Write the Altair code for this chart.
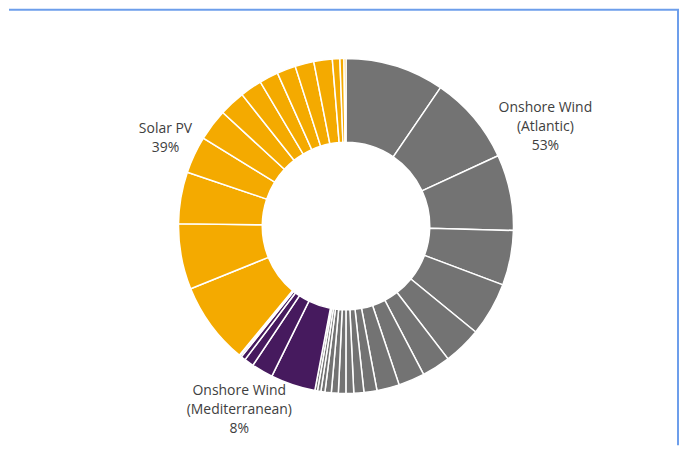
import altair as alt
import pandas as pd

# Slice shares (% of total), clockwise from 12 o'clock, each group sorted descending
atlantic = [9.53, 8.56, 7.31, 5.28, 5.19, 3.67, 2.75, 2.53, 2.17, 1.25, 0.97,
            0.75, 0.72, 0.67, 0.61, 0.39, 0.33, 0.25]
mediterranean = [4.31, 2.08, 0.92, 0.44, 0.17, 0.08]
solar = [7.89, 6.33, 4.97, 3.58, 3.06, 2.50, 2.11, 1.83, 1.81, 1.81, 1.78,
         0.72, 0.39, 0.19]

groups = ["Onshore Wind (Atlantic)", "Onshore Wind (Mediterranean)", "Solar PV"]
colors = ["#737373", "#461a5e", "#f4aa00"]

label_atlantic = ["Onshore Wind", "(Atlantic)", "53%"]
label_med = ["Onshore Wind", "(Mediterranean)", "8%"]
label_solar = ["Solar PV", "39%"]

rows = []
k = 0
for g, vals in zip(groups, [atlantic, mediterranean, solar]):
    for v in vals:
        rows.append({"group": g, "value": v, "order": k})
        k += 1
df = pd.DataFrame(rows)

W, H = 672, 437
CX, CY = 338, 217

pie = alt.Chart(df).mark_arc(
    outerRadius=168, innerRadius=84, stroke="white", strokeWidth=1.5
).encode(
    theta=alt.Theta("value:Q", stack=True),
    order=alt.Order("order:Q"),
    color=alt.Color("group:N", scale=alt.Scale(domain=groups, range=colors), legend=None),
    x=alt.value(CX),
    y=alt.value(CY),
)

one = pd.DataFrame({"a": [0]})


def label(lines, x, y):
    return alt.Chart(pd.DataFrame({"t": ["\n".join(lines)]})).mark_text(
        lineBreak="\n", font="Open Sans", fontSize=14, color="#404040",
        align="center", baseline="middle", lineHeight=19
    ).encode(text="t:N", x=alt.value(x), y=alt.value(y))


frame_top = alt.Chart(one).mark_rule(color="#6d9eeb", strokeWidth=2).encode(
    x=alt.value(0), x2=alt.value(W), y=alt.value(0))
frame_right = alt.Chart(one).mark_rule(color="#6d9eeb", strokeWidth=2).encode(
    x=alt.value(W - 1), y=alt.value(0), y2=alt.value(H))

chart = alt.layer(
    pie,
    label(label_atlantic, 538, 99),
    label(label_solar, 157, 119.5),
    label(label_med, 231, 382.5),
    frame_top,
    frame_right,
).properties(width=W, height=H, padding=0, background="white").configure_view(stroke=None)

chart.save("out.html", embed_options={"renderer": "svg", "actions": False})
